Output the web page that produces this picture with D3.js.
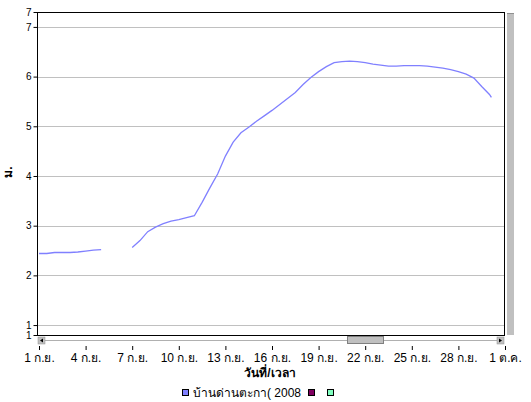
<!DOCTYPE html>
<html>
<head>
<meta charset="utf-8">
<script src="https://cdn.jsdelivr.net/npm/d3@7"></script>
<style>
  body { margin: 0; background: #fff; }
  svg text { font-family: "Liberation Sans", Arial, "Noto Sans", sans-serif; font-size: 12px; fill: #000; }
</style>
</head>
<body>
<div id="chart"></div>
<script>
// ระดับน้ำ (ม.) ทุก 12 ชม. เดือนกันยายน 2008
const times = [
  '2008-09-01 00', '2008-09-01 12', '2008-09-02 00', '2008-09-02 12', '2008-09-03 00', '2008-09-03 12',
  '2008-09-04 00', '2008-09-04 12', '2008-09-05 00', '2008-09-06 00',
  '2008-09-07 00', '2008-09-07 12', '2008-09-08 00', '2008-09-08 12', '2008-09-09 00', '2008-09-09 12',
  '2008-09-10 00', '2008-09-10 12', '2008-09-11 00', '2008-09-11 12', '2008-09-12 00', '2008-09-12 12',
  '2008-09-13 00', '2008-09-13 12', '2008-09-14 00', '2008-09-14 12', '2008-09-15 00', '2008-09-15 12',
  '2008-09-16 00', '2008-09-16 12', '2008-09-17 00', '2008-09-17 12', '2008-09-18 00', '2008-09-18 12',
  '2008-09-19 00', '2008-09-19 12', '2008-09-20 00', '2008-09-20 12', '2008-09-21 00', '2008-09-21 12',
  '2008-09-22 00', '2008-09-22 12', '2008-09-23 00', '2008-09-23 12', '2008-09-24 00', '2008-09-24 12',
  '2008-09-25 00', '2008-09-25 12', '2008-09-26 00', '2008-09-26 12', '2008-09-27 00', '2008-09-27 12',
  '2008-09-28 00', '2008-09-28 12', '2008-09-29 00', '2008-09-29 12', '2008-09-30 00', '2008-09-30 03'
]
const levels = [
  2.44, 2.44, 2.46, 2.46, 2.46, 2.47,
  2.49, 2.51, 2.52, null,
  2.56, 2.70, 2.88, 2.97, 3.04, 3.09,
  3.12, 3.16, 3.20, 3.47, 3.76, 4.04,
  4.40, 4.68, 4.87, 4.98, 5.10, 5.21,
  5.32, 5.44, 5.56, 5.68, 5.84, 5.98,
  6.10, 6.20, 6.28, 6.30, 6.31, 6.30,
  6.28, 6.25, 6.23, 6.21, 6.21, 6.22,
  6.22, 6.22, 6.21, 6.19, 6.17, 6.14,
  6.10, 6.05, 5.97, 5.80, 5.64, 5.58
]
const yTicks = [0.8, 1, 2, 3, 4, 5, 6, 7, 7.3]
const thaiMonths = ['ม.ค.', 'ก.พ.', 'มี.ค.', 'เม.ย.', 'พ.ค.', 'มิ.ย.', 'ก.ค.', 'ส.ค.', 'ก.ย.', 'ต.ค.', 'พ.ย.', 'ธ.ค.']
const legendNames = ['บ้านด่านตะกา( 2008', '', '']
const legendColors = ['#8080ff', '#800060', '#80ffc0']

const W = 531, H = 402
const plotL = 37, plotR = 504, plotT = 12, plotB = 335

const parse = d3.utcParse('%Y-%m-%d %H')
const data = times.map((t, i) => ({ t: parse(t), v: levels[i] }))

const svg = d3.select('#chart').append('svg')
  .attr('width', W)
  .attr('height', H)

const x = d3.scaleUtc()
  .domain([Date.UTC(2008, 8, 1), Date.UTC(2008, 9, 1)])
  .range([39, 505])
const y = d3.scaleLinear()
  .domain([0.8, 7.3])
  .range([plotB, plotT])

// เส้นกริด
svg.append('g')
  .selectAll('line')
  .data(yTicks.filter(d => d >= 1 && d <= 7))
  .join('line')
  .attr('x1', plotL + 1).attr('x2', plotR)
  .attr('y1', d => Math.round(y(d)) + 0.5).attr('y2', d => Math.round(y(d)) + 0.5)
  .attr('stroke', '#c0c0c0')

// กรอบ
svg.append('rect')
  .attr('x', plotL + 0.5).attr('y', plotT + 0.5)
  .attr('width', plotR - plotL).attr('height', plotB - plotT)
  .attr('fill', 'none').attr('stroke', '#000')

// แกน y
const gy = svg.append('g')
  .attr('transform', `translate(${plotL + 0.5},0)`)
  .call(d3.axisLeft(y).tickValues(yTicks).tickFormat(d3.format('.0f')).tickSize(4).tickPadding(2))
gy.select('.domain').remove()
gy.selectAll('.tick line').attr('stroke', '#000')
gy.selectAll('.tick text').style('font-size', '10px')

// แถบเลื่อนแนวนอน
const sb = svg.append('g')
sb.append('line')
  .attr('x1', 45).attr('x2', 497).attr('y1', 340.5).attr('y2', 340.5)
  .attr('stroke', '#b0b0b0')
sb.append('rect').attr('x', 38).attr('y', 337).attr('width', 7).attr('height', 7)
  .attr('fill', '#c0c0c0').attr('stroke', '#909090').attr('stroke-width', 0.5)
sb.append('path').attr('d', 'M43,338.5 L40,340.5 L43,342.5 Z').attr('fill', '#000')
sb.append('rect').attr('x', 497).attr('y', 337).attr('width', 7).attr('height', 7)
  .attr('fill', '#c0c0c0').attr('stroke', '#909090').attr('stroke-width', 0.5)
sb.append('path').attr('d', 'M499,338.5 L502,340.5 L499,342.5 Z').attr('fill', '#000')
sb.append('rect').attr('x', 347.5).attr('y', 336.5).attr('width', 36).attr('height', 7)
  .attr('fill', '#c0c0c0').attr('stroke', '#808080')

// แถบเลื่อนแนวตั้ง
svg.append('rect').attr('x', 507).attr('y', 13).attr('width', 7).attr('height', 322)
  .attr('fill', '#c0c0c0')
svg.append('line').attr('x1', 507).attr('x2', 514).attr('y1', 13.5).attr('y2', 13.5)
  .attr('stroke', '#909090')

// แกน x
const gx = svg.append('g')
  .attr('transform', 'translate(0,346)')
  .call(d3.axisBottom(x)
    .ticks(d3.utcDay.every(3))
    .tickFormat(d => `${d.getUTCDate()} ${thaiMonths[d.getUTCMonth()]}`)
    .tickSize(4).tickPadding(3))
gx.select('.domain').remove()
gx.selectAll('.tick line').attr('stroke', '#000')
gx.selectAll('.tick text').style('font-size', '12px')

// เส้นข้อมูล
const line = d3.line()
  .defined(d => d.v != null)
  .x(d => x(d.t))
  .y(d => y(d.v))
svg.append('path')
  .datum(data)
  .attr('fill', 'none')
  .attr('stroke', '#8080ff')
  .attr('stroke-width', 1.3)
  .attr('d', line)

// ชื่อแกน
svg.append('text')
  .attr('transform', 'translate(12,172) rotate(-90)')
  .attr('text-anchor', 'middle')
  .style('font-weight', 'bold')
  .text('ม.')
svg.append('text')
  .attr('x', 270).attr('y', 377)
  .attr('text-anchor', 'middle')
  .style('font-weight', 'bold')
  .style('font-size', '12px')
  .text('วันที่/เวลา')

// คำอธิบาย
const lg = svg.append('g')
const lx = [182, 308, 327]
legendNames.forEach((name, i) => {
  lg.append('rect')
    .attr('x', lx[i] + 0.5).attr('y', 389.5).attr('width', 6).attr('height', 6)
    .attr('fill', legendColors[i]).attr('stroke', '#000')
  if (name) {
    lg.append('text')
      .attr('x', lx[i] + 11).attr('y', 397)
      .text(name)
  }
})
</script>
</body>
</html>
